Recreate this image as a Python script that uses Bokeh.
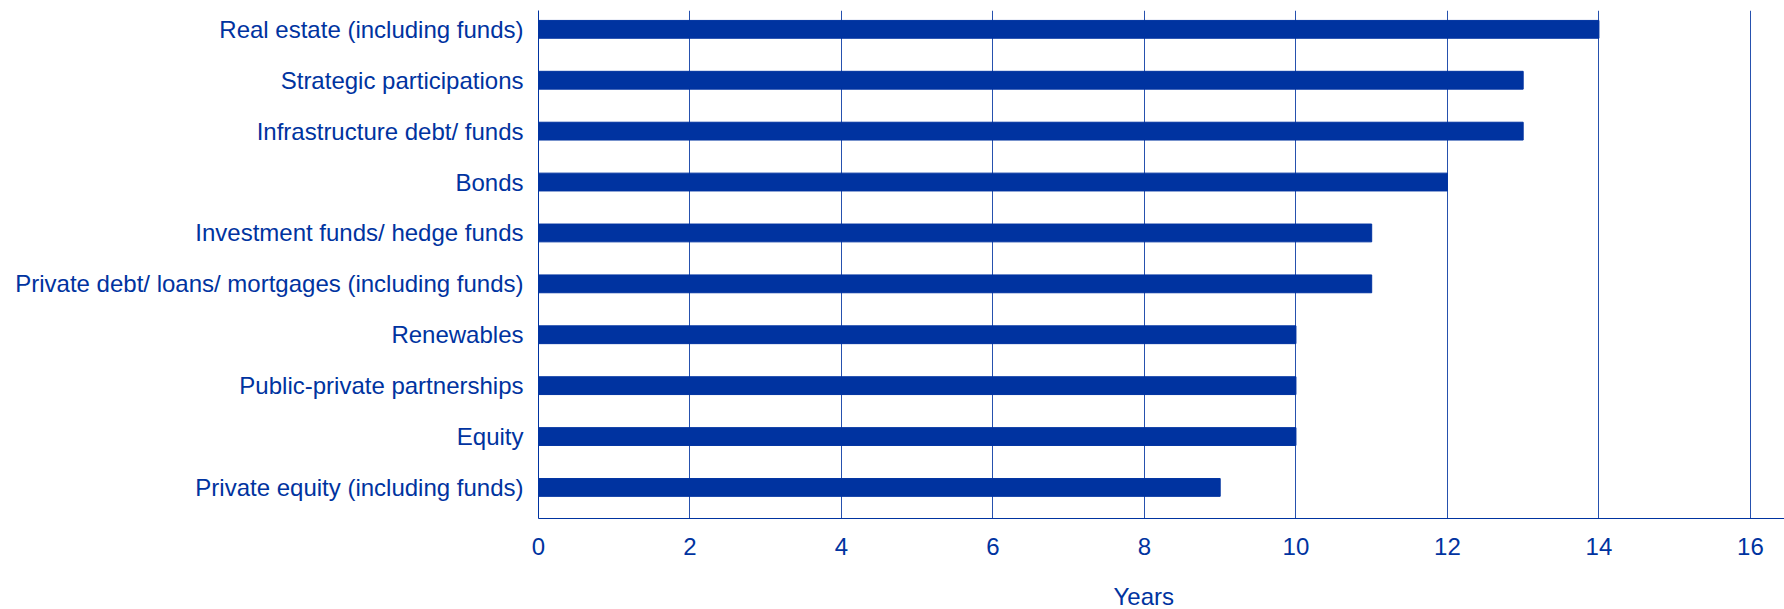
from bokeh.plotting import figure
from bokeh.models import Range1d, FixedTicker, Title
from bokeh.embed import file_html
from bokeh.resources import INLINE

categories = [
    "Real estate (including funds)",
    "Strategic participations",
    "Infrastructure debt/ funds",
    "Bonds",
    "Investment funds/ hedge funds",
    "Private debt/ loans/ mortgages (including funds)",
    "Renewables",
    "Public-private partnerships",
    "Equity",
    "Private equity (including funds)",
]
years = [14, 13, 13, 12, 11, 11, 10, 10, 10, 9]
x_ticks = [0, 2, 4, 6, 8, 10, 12, 14, 16]
x_title = "Years"

BLUE = "#0033a0"
FONT = "Liberation Sans"

n = len(categories)
ypos = [n - 1 - i for i in range(n)]  # first category at the top
y_start, y_end = -0.61, n - 1 + 0.37

p = figure(
    width=1784, height=609,
    x_range=Range1d(0, 16.45),
    y_range=Range1d(y_start, y_end),
    output_backend="svg", toolbar_location=None,
    min_border_left=538, min_border_top=10, min_border_right=0, min_border_bottom=91,
)
p.outline_line_color = None
p.hbar(y=ypos, right=years, left=0, height=0.35, color=BLUE)

p.xaxis.ticker = FixedTicker(ticks=x_ticks)
p.xgrid.ticker = FixedTicker(ticks=x_ticks)
p.xgrid.grid_line_color = BLUE
p.xgrid.grid_line_width = 1
p.xgrid.grid_line_alpha = 0.85
p.ygrid.grid_line_color = None

p.yaxis.ticker = FixedTicker(ticks=ypos)
p.yaxis.major_label_overrides = {y: c for y, c in zip(ypos, categories)}

for ax in (p.xaxis, p.yaxis):
    ax.axis_line_color = BLUE
    ax.axis_line_width = 1
    ax.major_tick_line_color = None
    ax.minor_tick_line_color = None
    ax.major_tick_out = 0
    ax.major_tick_in = 0
    ax.minor_tick_out = 0
    ax.major_label_text_color = BLUE
    ax.major_label_text_font = FONT
    ax.major_label_text_font_size = "24px"

p.yaxis.major_label_standoff = 15
p.xaxis.major_label_standoff = 19

# blank axis label used only as vertical spacing above the title
p.xaxis.axis_label = "\u00a0"
p.xaxis.axis_label_text_font_size = "10px"
p.xaxis.axis_label_standoff = 9

title = Title(
    text=x_title, align="left", offset=575, standoff=0, vertical_align="bottom",
    text_color=BLUE, text_font=FONT, text_font_size="24px",
    text_font_style="normal",
)
p.add_layout(title, "below")

open("out.html", "w").write(file_html(p, INLINE))
